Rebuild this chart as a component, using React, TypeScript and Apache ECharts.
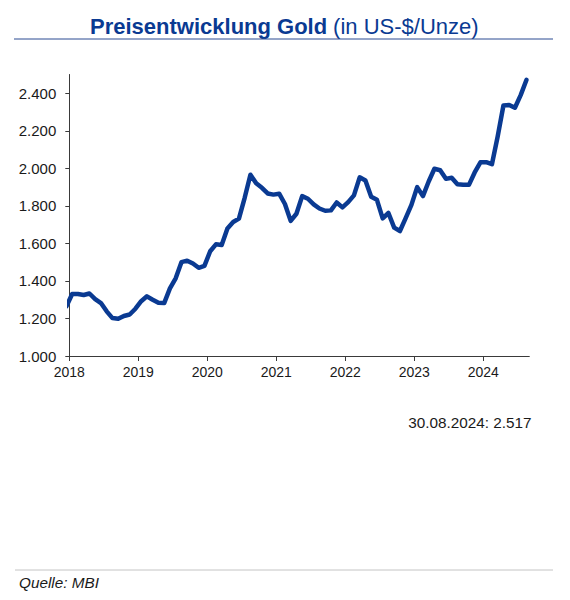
import React, { useEffect, useRef } from "react";
import * as echarts from "echarts";

// Monthly average gold price (US-$/oz), plotted mid-month, Dec 2017 .. Aug 2024
const startYear = 2017;
const startMonth = 12;
const goldPrice = [
  1265,
  1330, 1330, 1325, 1333, 1303, 1282, 1238, 1202, 1198, 1213, 1221, 1252,
  1292, 1318, 1300, 1284, 1282, 1360, 1414, 1500, 1508, 1493, 1470, 1480,
  1558, 1595, 1592, 1680, 1714, 1732, 1843, 1966, 1920, 1896, 1866, 1860,
  1865, 1810, 1720, 1758, 1852, 1838, 1808, 1786, 1774, 1776, 1818, 1792,
  1820, 1856, 1952, 1935, 1848, 1832, 1733, 1762, 1684, 1666, 1735, 1805,
  1900, 1852, 1930, 1998, 1990, 1944, 1950, 1915, 1912, 1912, 1978, 2032,
  2033, 2022, 2170, 2335, 2338, 2323, 2390, 2471,
];
const yearTicks = [2018, 2019, 2020, 2021, 2022, 2023, 2024];
const priceTicks = [1000, 1200, 1400, 1600, 1800, 2000, 2200, 2400];

const titleBold = "Preisentwicklung Gold";
const titleRest = " (in US-$/Unze)";
const lastValueText = "30.08.2024: 2.517";
const sourceText = "Quelle: MBI";

const BLUE = "#0a3a92";
const FONT = "Liberation Sans, Arial, sans-serif";

function fmtThousands(v: number): string {
  const t = Math.floor(v / 1000);
  const r = Math.round(v % 1000);
  return t > 0 ? t + "." + String(r).padStart(3, "0") : String(r);
}

export default function App() {
  const ref = useRef<HTMLDivElement>(null);
  useEffect(() => {
    if (!ref.current) return;
    const chart = echarts.init(ref.current, undefined, { renderer: "svg" });
    const data = goldPrice.map((v, i) => {
      const m = startMonth - 1 + i; // months since Jan of startYear
      const x = startYear + (m + 0.5) / 12;
      return [x, v];
    });
    chart.setOption({
      animation: false,
      backgroundColor: "#ffffff",
      grid: { left: 69.3, right: 40.7, top: 74.5, bottom: 244, containLabel: false },
      xAxis: {
        type: "value",
        min: 2018,
        max: 2018 + 80 / 12,
        interval: 1,
        splitLine: { show: false },
        axisLine: { show: true, lineStyle: { color: "#3a3a3a", width: 1 } },
        axisTick: { show: true, length: 5, customValues: yearTicks, lineStyle: { color: "#3a3a3a" } },
        axisLabel: {
          customValues: yearTicks,
          margin: 9,
          fontSize: 14,
          fontFamily: FONT,
          color: "#1a1a1a",
          formatter: (v: number) => String(Math.round(v)),
        },
      },
      yAxis: {
        type: "value",
        min: 1000,
        max: 2500,
        interval: 200,
        splitLine: { show: false },
        axisLine: { show: true, lineStyle: { color: "#3a3a3a", width: 1 } },
        axisTick: { show: true, length: 4, customValues: priceTicks, lineStyle: { color: "#3a3a3a" } },
        axisLabel: {
          customValues: priceTicks,
          margin: 13,
          fontSize: 15,
          fontFamily: FONT,
          color: "#1a1a1a",
          formatter: (v: number) => fmtThousands(v),
        },
      },
      series: [
        {
          type: "line",
          data,
          showSymbol: false,
          clip: true,
          lineStyle: { color: BLUE, width: 4.5, join: "round", cap: "round" },
          itemStyle: { color: BLUE },
        },
      ],
      graphic: [
        {
          type: "text",
          x: 90,
          y: 26,
          style: {
            text: titleBold,
            fontSize: 22,
            fontWeight: "bold",
            fontFamily: FONT,
            fill: BLUE,
            verticalAlign: "middle",
            align: "left",
          },
        },
        {
          type: "text",
          x: 327,
          y: 26,
          style: {
            text: titleRest,
            fontSize: 22,
            fontFamily: FONT,
            fill: BLUE,
            verticalAlign: "middle",
            align: "left",
          },
        },
        {
          type: "line",
          shape: { x1: 14, y1: 39, x2: 553, y2: 39 },
          style: { stroke: "#2a4a92", lineWidth: 1 },
        },
        {
          type: "text",
          x: 531.5,
          y: 422.5,
          style: {
            text: lastValueText,
            fontSize: 15.3,
            fontFamily: FONT,
            fill: "#1a1a1a",
            align: "right",
            verticalAlign: "middle",
          },
        },
        {
          type: "line",
          shape: { x1: 15, y1: 570, x2: 553, y2: 570 },
          style: { stroke: "#c4c4c4", lineWidth: 1 },
        },
        {
          type: "text",
          x: 19,
          y: 582.7,
          style: {
            text: sourceText,
            fontSize: 15.3,
            fontStyle: "italic",
            fontFamily: FONT,
            fill: "#1a1a1a",
            align: "left",
            verticalAlign: "middle",
          },
        },
      ],
    });
    return () => chart.dispose();
  }, []);
  return (
    <div
      ref={ref}
      style={{ position: "fixed", left: 0, top: 0, width: 570, height: 600, background: "#fff" }}
    />
  );
}
